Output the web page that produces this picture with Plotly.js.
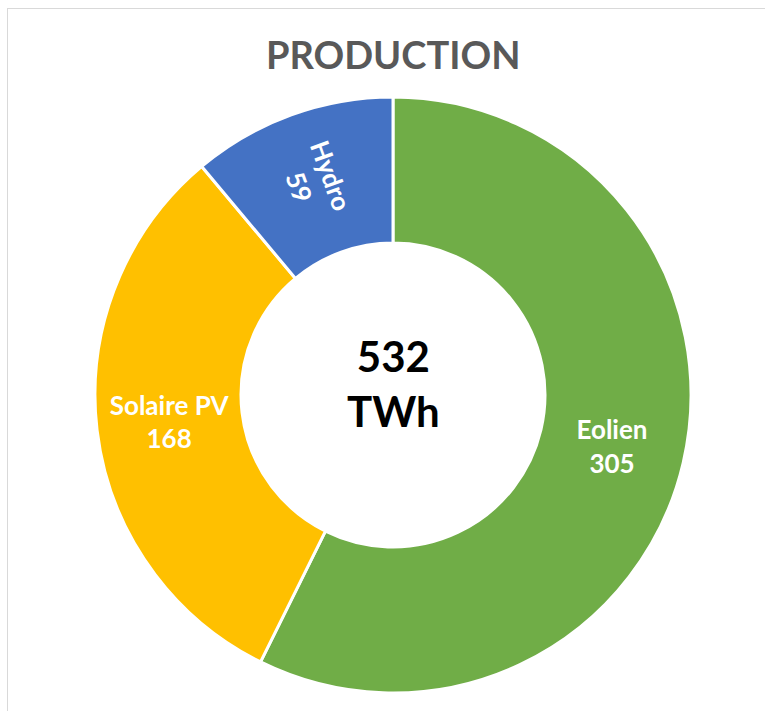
<!DOCTYPE html>
<html>
<head>
<meta charset="utf-8">
<script src="https://cdn.plot.ly/plotly-3.0.1.min.js"></script>
<style>
html,body{margin:0;padding:0;background:#fff;}
#frame{position:absolute;left:7px;top:8px;width:800px;height:760px;border-left:1px solid #d9d9d9;border-top:1px solid #d9d9d9;}
#chart{position:absolute;left:0;top:0;width:765px;height:711px;}
</style>
</head>
<body>
<div id="frame"></div>
<div id="chart"></div>
<script>
const labels = ["Eolien", "Solaire PV", "Hydro"];
const values = [305, 168, 59];
const colors = ["#70AD47", "#FFC000", "#4472C4"];
const unit = "TWh";
const titleText = "PRODUCTION";

const total = values.reduce((a, b) => a + b, 0);
const lbl = "%{label}<br>%{value}";
const font = {family: "Lato, 'Open Sans', sans-serif", size: 26, color: "#ffffff", weight: "bold"};

const base = {
  type: "pie",
  labels: labels,
  values: values,
  hole: 0.51,
  sort: false,
  direction: "clockwise",
  rotation: 0,
  textposition: "inside",
  textfont: font,
  hoverinfo: "none",
  showlegend: false
};

// main rings with horizontal labels
const trace1 = Object.assign({}, base, {
  marker: {colors: colors, line: {color: "#ffffff", width: 3}},
  texttemplate: labels.map((l, i) => i === 2 ? "" : lbl),
  insidetextorientation: "auto"
});
// transparent overlay carrying the radial Hydro label
const trace2 = Object.assign({}, base, {
  marker: {colors: colors.map(() => "rgba(0,0,0,0)"), line: {width: 0}},
  texttemplate: labels.map((l, i) => i === 2 ? lbl : ""),
  insidetextorientation: "radial"
});

const layout = {
  width: 765,
  height: 711,
  paper_bgcolor: "rgba(0,0,0,0)",
  plot_bgcolor: "rgba(0,0,0,0)",
  margin: {l: 95, r: 74, t: 97, b: 18},
  title: {
    text: titleText,
    font: {family: "Lato, 'Open Sans', sans-serif", size: 38, color: "#595959", weight: "bold"},
    x: 0.514, xanchor: "center",
    y: 0.922, yanchor: "middle"
  },
  annotations: [{
    text: total + "<br>" + unit,
    x: 0.5, y: 0.5, xref: "paper", yref: "paper",
    yshift: 12,
    showarrow: false,
    font: {family: "Lato, 'Open Sans', sans-serif", size: 42, color: "#000000", weight: "bold"}
  }]
};

Plotly.newPlot("chart", [trace1, trace2], layout, {displayModeBar: false, staticPlot: true});
</script>
</body>
</html>
